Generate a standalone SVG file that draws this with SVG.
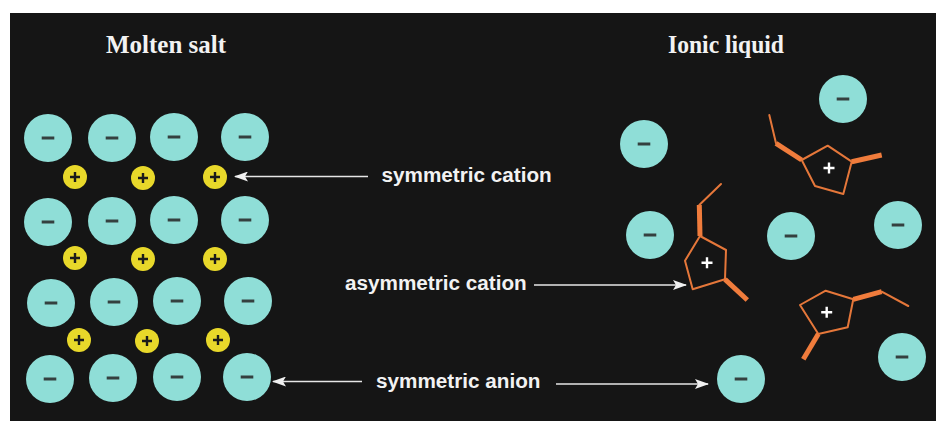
<svg xmlns="http://www.w3.org/2000/svg" width="936" height="421" viewBox="0 0 936 421">
  <defs>
    <style>
      .title { font-family: "Liberation Serif", "Times New Roman", serif; font-weight: bold; font-size: 26px; fill: #f2f2f2; }
      .label { font-family: "Liberation Sans", Arial, Helvetica, sans-serif; font-weight: bold; font-size: 20.7px; fill: #f2f2f2; }
      .ring { fill: none; stroke: #e5773a; stroke-width: 2; stroke-linejoin: round; }
      .thin { fill: none; stroke: #e5773a; stroke-width: 2; stroke-linecap: round; }
      .thick { fill: none; stroke: #f07c3c; stroke-width: 5; stroke-linecap: butt; }
      .plus { stroke: #ffffff; stroke-width: 2.4; fill: none; }
      .conn line { stroke: #e6e6e6; stroke-width: 1.6; }
    </style>
    <marker id="arrow" viewBox="0 0 14 10" refX="13" refY="5" markerWidth="14" markerHeight="10" markerUnits="userSpaceOnUse" orient="auto">
      <path d="M0,0 L14,5 L0,10 L3,5 z" fill="#f0f0f0"/>
    </marker>
    <!-- reusable ions -->
    <g id="an">
      <circle r="24" fill="#8fded7"/>
      <line x1="-6.3" y1="0" x2="6.3" y2="0" stroke="#34403f" stroke-width="3"/>
    </g>
    <g id="cat">
      <circle r="12" fill="#e8d82a"/>
      <path d="M-5,0 H5 M0,-5 V5" stroke="#1a1a1a" stroke-width="2.4" fill="none"/>
    </g>
  </defs>

  <rect x="10" y="13" width="926" height="408" fill="#151515"/>

  <text class="title" x="106" y="52.5" textLength="120" lengthAdjust="spacingAndGlyphs">Molten salt</text>
  <text class="title" x="668" y="53" textLength="116" lengthAdjust="spacingAndGlyphs">Ionic liquid</text>

  <!-- Molten salt lattice -->
  <g id="molten-anions">
    <use href="#an" x="48" y="138"/>
    <use href="#an" x="112" y="138"/>
    <use href="#an" x="174" y="137"/>
    <use href="#an" x="245" y="137"/>
    <use href="#an" x="48" y="222"/>
    <use href="#an" x="112" y="221"/>
    <use href="#an" x="174" y="220"/>
    <use href="#an" x="245" y="220"/>
    <use href="#an" x="51" y="303"/>
    <use href="#an" x="114" y="302"/>
    <use href="#an" x="177" y="301"/>
    <use href="#an" x="248" y="301"/>
    <use href="#an" x="50" y="379"/>
    <use href="#an" x="113" y="378"/>
    <use href="#an" x="177" y="377"/>
    <use href="#an" x="247" y="377"/>
  </g>
  <g id="molten-cations">
    <use href="#cat" x="75" y="177"/>
    <use href="#cat" x="143" y="178"/>
    <use href="#cat" x="215" y="177"/>
    <use href="#cat" x="75" y="258"/>
    <use href="#cat" x="143" y="259"/>
    <use href="#cat" x="215" y="259"/>
    <use href="#cat" x="79" y="340"/>
    <use href="#cat" x="147" y="341"/>
    <use href="#cat" x="218" y="340"/>
  </g>

  <!-- Ionic liquid anions -->
  <g id="liquid-anions">
    <use href="#an" x="843" y="99"/>
    <use href="#an" x="644" y="144"/>
    <use href="#an" x="650" y="235"/>
    <use href="#an" x="791" y="236"/>
    <use href="#an" x="898" y="225"/>
    <use href="#an" x="741" y="379"/>
    <use href="#an" x="902" y="357"/>
  </g>

  <!-- Ionic liquid cations: five-membered ring with alkyl chains -->
  <g id="cation-top">
    <polygon class="ring" points="801.7,160 827.7,145.7 851.7,161.7 843.3,194 815,186"/>
    <line class="thick" x1="801.7" y1="160" x2="776" y2="143.3"/>
    <polyline class="thin" points="776,143.3 769.3,115"/>
    <line class="thick" x1="851.7" y1="161.7" x2="881.7" y2="155"/>
    <path class="plus" d="M823.5,168 H834.5 M829,162.5 V173.5"/>
  </g>
  <g id="cation-middle">
    <polygon class="ring" points="700,236 726,250 725,279.3 692.7,289.3 685,260.7"/>
    <line class="thick" x1="700" y1="236" x2="699.3" y2="205"/>
    <polyline class="thin" points="699.3,205 721,184"/>
    <line class="thick" x1="725" y1="279.3" x2="747.3" y2="300"/>
    <path class="plus" d="M701.5,262.7 H712.5 M707,257.2 V268.2"/>
  </g>
  <g id="cation-bottom">
    <polygon class="ring" points="800,305 825.7,290.7 853.3,299.3 847.7,327.3 818.3,334"/>
    <line class="thick" x1="853.3" y1="299.3" x2="881.7" y2="291.7"/>
    <polyline class="thin" points="881.7,291.7 908.3,306"/>
    <line class="thick" x1="818.3" y1="334" x2="803.3" y2="359.3"/>
    <path class="plus" d="M821.2,312.3 H832.2 M826.7,306.8 V317.8"/>
  </g>

  <!-- Labels -->
  <g id="labels">
    <text class="label" x="381.5" y="181.5">symmetric cation</text>
    <text class="label" x="345" y="289.5">asymmetric cation</text>
    <text class="label" x="376" y="387.5">symmetric anion</text>
  </g>

  <!-- Connectors -->
  <g id="connectors" class="conn">
    <line x1="368" y1="176.5" x2="235" y2="176.5" marker-end="url(#arrow)"/>
    <line x1="534" y1="285" x2="686" y2="285" marker-end="url(#arrow)"/>
    <line x1="362" y1="381.5" x2="273" y2="381.5" marker-end="url(#arrow)"/>
    <line x1="556" y1="384" x2="708" y2="384" marker-end="url(#arrow)"/>
  </g>
</svg>
